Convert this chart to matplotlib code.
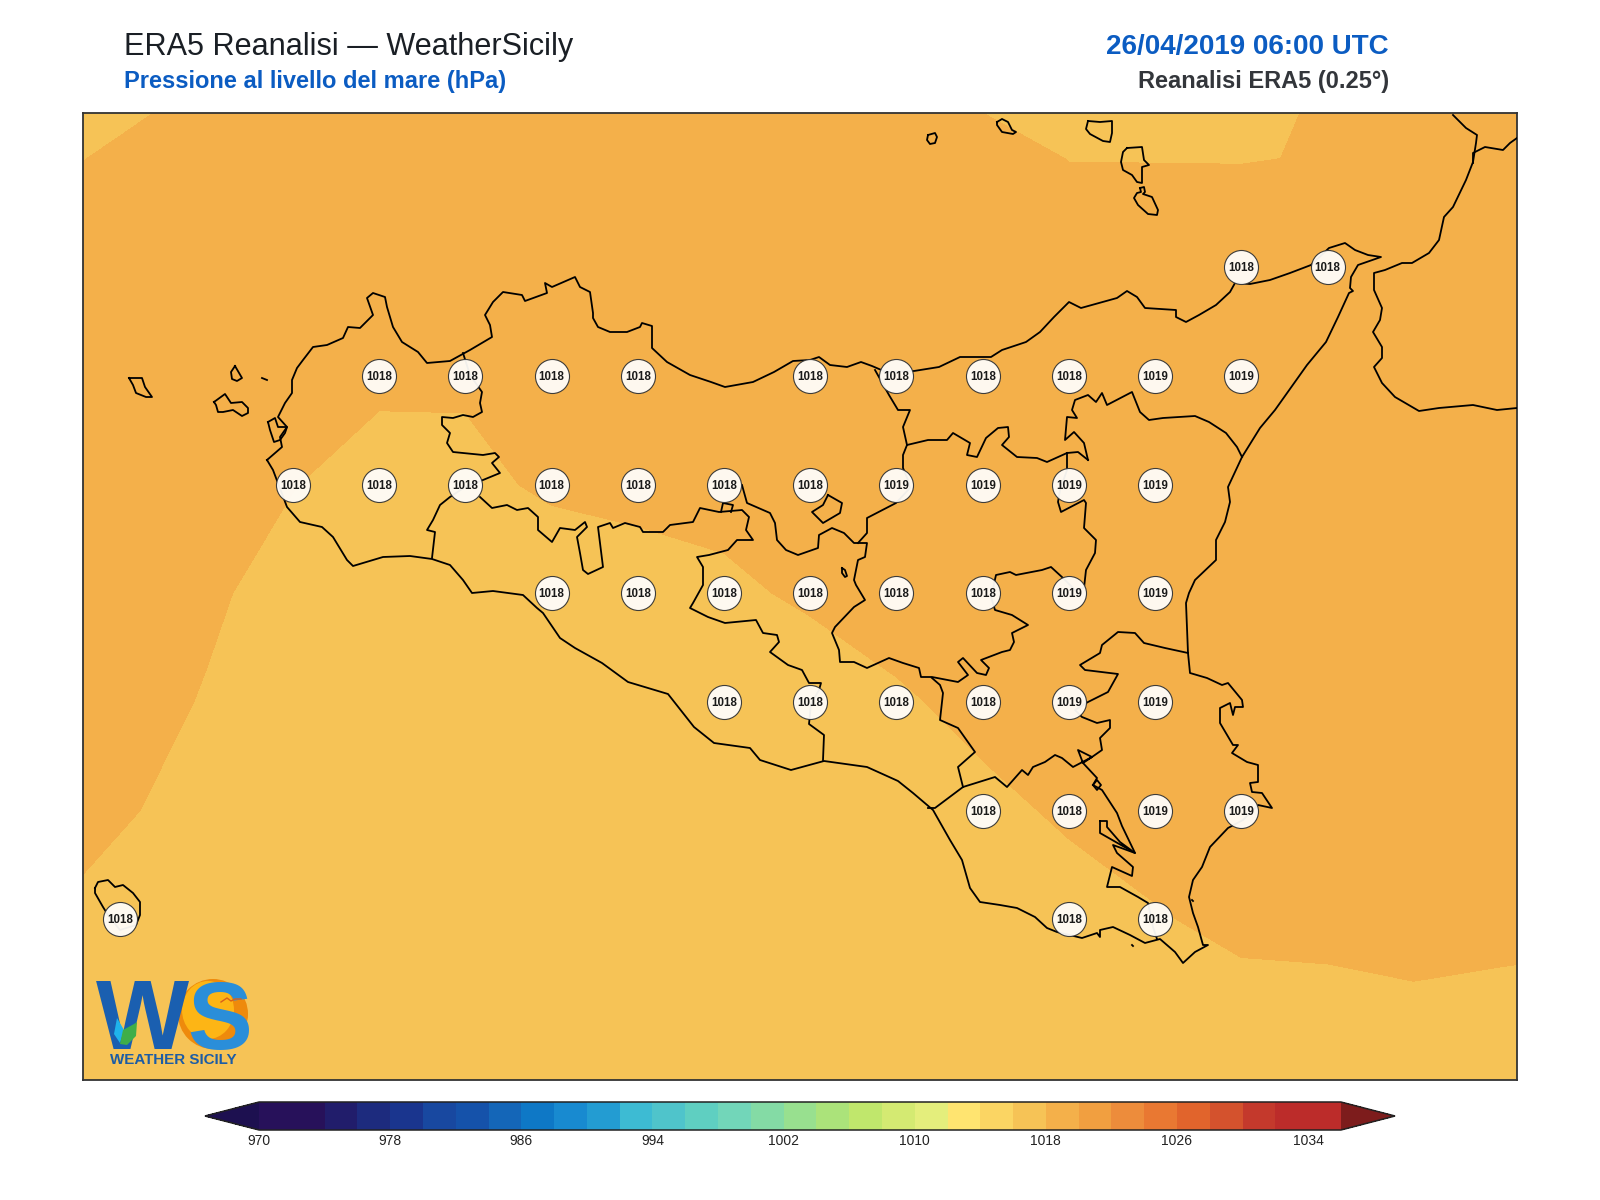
import numpy as np
import matplotlib
matplotlib.use("Agg")
import matplotlib.pyplot as plt
from matplotlib.colors import ListedColormap, BoundaryNorm
from matplotlib.patches import Circle, Polygon, Ellipse

plt.rcParams['font.family'] = ['Liberation Sans', 'DejaVu Sans']

# ---------- pressure field (ERA5 0.25 deg grid, hPa) ----------
LON = [11.75, 12.0, 12.25, 12.5, 12.75, 13.0, 13.25, 13.5, 13.75, 14.0, 14.25, 14.5, 14.75, 15.0, 15.25, 15.5, 15.75, 16.0, 16.25]
LAT = [38.75, 38.5, 38.25, 38.0, 37.75, 37.5, 37.25, 37.0, 36.75, 36.5, 36.25]
D_3875 = [-.6, -.752, -.095, .121, .3, .3, .3, .3, .3, .165, -.085, -.525, -.5, -.5, -.5, .005, .3, .3, .3]
D_3850 = [-.313, .2, .3, .4, .4, .4, .4, .4, .45, .5, .5, .38, -.02, -.02, -.02, .024, .5, .6, .6]
D_3825 = [.533, .5, .5, .5, .5, .5, .5, .5, .5, .5, .5, .5, .586, .456, .365, .5, .6, .7, .7]
D_3800 = [.7, .6, .5, .4, .141, .118, .3, .4, .45, .45, .45, .45, .45, .6, .6, .7, .8, .8, .8]
D_3775 = [.6, .4, .2, .0226, -.3, -.23, .141, .313, .434, .45, .55, .6, .65, .7, .75, .8, .85, .9, .9]
D_3750 = [.5, .35, .129, -.3, -.6, -.6, -.6, -.5, -.255, .2, 1.03, .45, .6, .7, .8, .8, .85, .9, .9]
D_3725 = [.5, .329, -.058, -.4, -.6, -.6, -.6, -.6, -.6, -.752, -.308, .626, .7, .75, .8, .85, .9, .9, .9]
D_3700 = [.4, .145, -.5, -.6, -.6, -.6, -.6, -.6, -.6, -.6, -.6, -.533, .3, .51, .6, .7, .8, .8, .8]
D_3675 = [.064, -.58, -.7, -.7, -.7, -.7, -.7, -.7, -.7, -.7, -.7, -.7, -.854, -.09, .27, .347, .66, .39, .235]
D_3650 = [-.647, -.5, -.5, -.5, -.5, -.5, -.5, -.5, -.5, -.5, -.5, -.5, -.5, -.5, -.5, -.5, -.5, -.5, -.5]
D_3625 = [-.8] * 19
BASE_HPA = 1018.0

LEVELS = list(range(970, 1038, 2))
CBAR_TICKS = list(range(970, 1035, 8))
COLORS = ['#27115A', '#27115A', '#211D6B', '#1D2B7E', '#1A358E', '#1848A0', '#1552AA', '#1466B8', '#0E78C6',
          '#188AD0', '#239CD2', '#3DBBD3', '#4FC4CB', '#5FCFC1', '#72D6B9', '#84DBA5', '#98E08F', '#ABE37A',
          '#C0E76C', '#D4EA72', '#E4EE7C', '#FFE470', '#FBD563', '#F6C356', '#F4B04A', '#F19F40', '#ED8C3B',
          '#E97832', '#E1642C', '#D4522D', '#C4392C', '#BC2C2A', '#BC2C2A']
UNDER, OVER = '#1D1050', '#7D1C1C'

# ---------- station values ----------
ROW_3825 = (38.25, [15.25, 15.5], [1018, 1018])
ROW_3800 = (38.0, [12.75, 13.0, 13.25, 13.5, 14.0, 14.25, 14.5, 14.75, 15.0, 15.25],
            [1018, 1018, 1018, 1018, 1018, 1018, 1018, 1018, 1019, 1019])
ROW_3775 = (37.75, [12.5, 12.75, 13.0, 13.25, 13.5, 13.75, 14.0, 14.25, 14.5, 14.75, 15.0],
            [1018, 1018, 1018, 1018, 1018, 1018, 1018, 1019, 1019, 1019, 1019])
ROW_3750 = (37.5, [13.25, 13.5, 13.75, 14.0, 14.25, 14.5, 14.75, 15.0],
            [1018, 1018, 1018, 1018, 1018, 1018, 1019, 1019])
ROW_3725 = (37.25, [13.75, 14.0, 14.25, 14.5, 14.75, 15.0], [1018, 1018, 1018, 1018, 1019, 1019])
ROW_3700 = (37.0, [14.5, 14.75, 15.0, 15.25], [1018, 1018, 1019, 1019])
ROW_3675 = (36.75, [12.0, 14.75, 15.0], [1018, 1018, 1018])

SICILY = [(267,460),(282,447),(280,437),(287,427),(278,417),(285,403),(292,393),(292,380),(297,368),(303,360),(313,347),
 (327,345),(343,338),(348,327),(360,328),(373,315),(367,298),(373,293),(385,297),(387,307),(393,327),(402,342),(418,352),
 (427,363),(450,361),(470,350),(492,337),(490,325),(485,315),(493,302),(503,292),(522,295),(525,301),(547,293),(545,283),
 (552,287),(575,277),(580,287),(590,292),(593,313),(593,318),(598,327),(610,332),(627,332),(640,327),(642,323),(652,326),
 (652,348),(667,362),(690,375),(711,382),(725,387),(753,382),(774,372),(793,361),(810,360),(819,357),(830,365),(847,367),
 (861,362),(872,366),(886,372),(914,371),(939,367),(960,357),(991,357),(1002,350),(1026,342),(1040,332),(1054,317),(1069,302),
 (1081,308),(1106,301),(1117,298),(1127,291),(1137,297),(1145,308),(1176,310),(1176,317),(1186,322),(1199,315),(1216,305),
 (1230,292),(1235,283),(1250,284),(1270,280),(1290,273),(1311,265),(1329,248),(1345,243),(1355,250),(1368,255),(1381,257),
 (1358,265),(1351,277),(1350,288),(1353,291),(1349,293),(1338,317),(1326,342),(1307,365),(1275,410),(1260,428),(1242,457),
 (1228,487),(1230,502),(1225,522),(1216,540),(1216,560),(1195,580),(1189,593),(1186,603),(1188,653),(1190,673),(1207,678),
 (1222,685),(1228,683),(1242,700),(1243,707),(1235,707),(1233,715),(1230,703),(1220,708),(1220,723),(1233,745),(1238,745),
 (1232,753),(1247,762),(1258,765),(1258,782),(1250,783),(1252,792),(1262,793),(1272,808),(1258,805),(1243,820),(1228,828),
 (1210,847),(1202,867),(1193,880),(1189,897),(1193,913),(1198,927),(1203,945),(1208,945),(1195,952),(1183,963),(1175,952),
 (1160,939),(1145,943),(1130,935),(1113,927),(1100,930),(1100,937),(1097,933),(1082,938),(1057,932),(1047,928),(1035,917),
 (1017,908),(1000,905),(980,902),(970,888),(962,860),(950,840),(933,810),(913,793),(898,781),(867,767),(824,761),(791,770),
 (760,760),(750,748),(714,743),(694,727),(668,694),(628,682),(602,663),(575,648),(560,638),(543,613),(537,608),(523,595),
 (493,591),(472,593),(463,580),(450,565),(432,559),(410,556),(383,557),(353,566),(347,560),(333,537),(322,527),(300,522),
 (287,507),(273,470),(267,460)]
STAGNONE = [(268,422),(275,418),(278,427),(287,427),(285,433),(280,440),(274,442),(270,430),(268,422)]
TP_PA = [(463,353),(470,375),(482,392),(480,403),(482,412),(473,417),(463,415),(453,418),(442,417),(442,425),(450,433),
 (447,443),(453,452),(483,455),(495,453),(499,457),(492,463),(500,473),(483,480),(465,487),(450,497),(440,505),(433,520),
 (427,530),(435,532),(432,558)]
PA_AG = [(480,497),(492,508),(507,505),(517,510),(528,508),(538,517),(538,530),(552,542),(560,528),(575,530),(585,522),
 (587,527),(577,537),(580,553),(583,570),(588,574),(603,567),(600,543),(598,527),(610,523),(613,528),(625,523),(640,527),
 (643,532),(663,532),(670,525),(693,522),(700,508),(719,512),(742,510),(749,517),(746,530),(753,540),(737,540),(728,550),
 (709,555),(697,557),(703,567),(703,585),(693,603),(690,608),(708,617),(725,623),(756,620),(763,633),(777,635),(779,642),
 (770,652),(788,665),(802,670),(809,683),(821,683),(819,690),(811,704),(809,724),(824,735),(823,760)]
CL_PA = [(742,485),(747,503),(770,513),(775,523),(777,540),(786,550),(798,555),(818,548),(819,535),(832,528),(844,533),
 (854,543),(867,543),(865,557),(858,560),(854,580),(856,585),(865,600),(854,607),(835,627),(832,633),(839,650),(840,662),
 (854,662),(867,668),(889,658),(903,663),(919,668),(921,677),(932,677),(958,682),(968,675),(958,662),(963,658),(977,673),
 (986,675),(989,668),(981,660),(1002,652),(1010,650),(1014,642),(1012,633),(1028,625),(1012,615),(995,610),(991,597),
 (996,575),(1010,572),(1016,575),(1042,570),(1051,567),(1063,578),(1075,590),(1084,588),(1086,570),(1095,553),(1096,540),
 (1084,528),(1086,503),(1084,500),(1061,512),(1058,502),(1060,490),(1067,470),(1067,453)]
ME_NORTH = [(1088,460),(1084,443),(1074,432),(1065,440),(1067,417),(1077,418),(1072,410),(1075,400),(1088,395),(1096,402),
 (1102,393),(1107,405),(1132,392),(1140,412),(1149,420),(1163,418),(1195,416),(1209,422),(1226,433),(1237,447),(1242,457)]
ME_LINK = [(1067,453),(1078,452),(1088,460)]
EN_ME = [(1067,453),(1047,462),(1037,458),(1017,457),(1002,445),(1009,437),(1008,427),(998,428),(986,438),(977,457),(967,455),
 (970,443),(953,433),(947,440),(928,440),(907,445),(903,455),(903,468),(908,480),(910,488),(896,503),(867,518),(867,533),(858,543)]
PA_ME = [(875,370),(889,395),(898,410),(910,410),(903,427),(907,445)]
ENCLAVE = [(828,495),(842,503),(840,513),(823,523),(812,512),(823,505),(828,495)]
ENCLAVE2 = [(721,512),(723,503),(733,505),(731,512)]
CT_SOUTH = [(1188,653),(1165,648),(1144,643),(1135,633),(1118,632),(1102,645),(1100,653),(1080,665),(1085,670),(1118,674),
 (1108,692),(1088,702),(1075,710),(1082,717),(1097,723),(1110,720),(1110,728),(1100,738),(1102,750),(1092,757),(1078,750),
 (1083,763),(1092,757),(1073,767),(1062,758),(1055,755),(1045,762),(1033,767),(1028,775),(1022,770),(1007,787),(995,777),
 (963,787),(935,808),(928,808)]
RG_CL = [(963,787),(958,767),(975,752),(958,728),(940,720),(943,693),(940,685),(932,678)]
RG_SR = [(1083,763),(1097,778),(1093,785),(1102,790),(1117,813),(1122,826),(1135,853),(1113,845),(1117,853),(1133,867),
 (1132,876),(1112,867),(1107,887),(1120,887),(1138,897),(1148,903),(1153,927),(1157,939)]
LAGOON = [(1100,821),(1107,821),(1107,827),(1120,842),(1135,853),(1100,833),(1100,821)]
LOOP_SE = [(1093,785),(1097,780),(1101,785),(1097,790),(1093,785)]
LAKE = [(842,568),(845,570),(847,576),(845,577),(842,573),(842,568)]
CALABRIA_W = [(1453,115),(1466,128),(1477,135),(1476,143),(1473,162),(1466,180),(1453,207),(1444,217),(1439,240),(1429,253),
 (1412,263),(1402,263),(1385,270),(1374,273),(1374,290),(1382,308),(1380,320),(1373,332),(1382,347),(1382,358),(1374,367),
 (1382,383),(1395,397),(1419,411),(1439,408),(1473,405),(1497,410),(1517,408)]
CALABRIA_N = [(1473,163),(1473,153),(1485,147),(1503,150),(1510,143),(1517,138)]
ALICUDI = [(928,135),(935,133),(937,137),(935,143),(930,144),(927,140),(928,135)]
FILICUDI = [(997,122),(1002,119),(1008,122),(1012,130),(1016,132),(1013,134),(1002,132),(997,125),(997,122)]
SALINA = [(1088,121),(1100,122),(1112,121),(1112,133),(1110,142),(1103,141),(1090,134),(1086,129),(1088,121)]
LIPARI = [(1127,148),(1142,147),(1144,160),(1149,165),(1142,167),(1142,183),(1137,182),(1132,175),(1123,170),(1121,162),(1123,152),(1127,148)]
VULCANO = [(1140,188),(1144,187),(1145,192),(1143,194),(1152,197),(1158,210),(1157,215),(1148,214),(1138,205),(1134,198),(1137,193),(1141,192),(1140,188)]
MARETTIMO = [(129,378),(142,378),(145,387),(152,397),(146,397),(136,393),(133,385),(129,378)]
LEVANZO = [(235,366),(242,378),(237,381),(232,379),(231,372),(235,366)]
FAVIGNANA = [(214,402),(225,394),(231,403),(242,402),(248,408),(248,413),(242,416),(233,410),(223,412),(218,412),(216,405),(214,402)]
FORMICA = [(262,378),(267,380)]
ISLET_A = [(1132,945),(1133,946)]
ISLET_B = [(1192,900),(1193,901)]
PANTELLERIA = [(95,888),(98,882),(108,880),(115,887),(123,885),(133,893),(140,902),(140,915),(136,925),(120,930),(108,915),(103,907),(95,893),(95,888)]
OUTLINES = [SICILY, STAGNONE, TP_PA, PA_AG, CL_PA, ME_NORTH, ME_LINK, EN_ME, PA_ME, ENCLAVE, ENCLAVE2, CT_SOUTH, RG_CL, RG_SR,
            LAGOON, LOOP_SE, LAKE, CALABRIA_W, CALABRIA_N, ALICUDI, FILICUDI, SALINA, LIPARI, VULCANO, MARETTIMO, LEVANZO,
            FAVIGNANA, FORMICA, ISLET_A, ISLET_B, PANTELLERIA]

# ---------- text ----------
TITLE = "ERA5 Reanalisi \u2014 WeatherSicily"
SUBTITLE = "Pressione al livello del mare (hPa)"
DATE = "26/04/2019 06:00 UTC"
SOURCE = "Reanalisi ERA5 (0.25\u00b0)"
LOGO_WORDS = "WEATHER SICILY"

W, H = 1600, 1200
LEFT, RIGHT, TOP, BOTTOM = 83, 1517, 113, 1080   # frame, px


def to_lon(x):
    return 15.5 + (np.asarray(x, float) - 1327.6) / 344.9


def to_lat(y):
    return 38.25 - (np.asarray(y, float) - 267.3) / 434.7


fig = plt.figure(figsize=(16, 12), dpi=100, facecolor='white')
ax = fig.add_axes([LEFT / W, 1 - BOTTOM / H, (RIGHT - LEFT) / W, (BOTTOM - TOP) / H])

grid = BASE_HPA + np.array([D_3875, D_3850, D_3825, D_3800, D_3775, D_3750, D_3725, D_3700, D_3675, D_3650, D_3625])
cmap = ListedColormap(COLORS).with_extremes(under=UNDER, over=OVER)
norm = BoundaryNorm(LEVELS, ncolors=len(COLORS))
cf = ax.contourf(LON, LAT, grid, levels=LEVELS, cmap=cmap, norm=norm, extend='both')

for line in OUTLINES:
    xs, ys = zip(*line)
    ax.plot(to_lon(xs), to_lat(ys), color='black', lw=1.3, solid_joinstyle='round', zorder=3)

for lat, lons, vals in (ROW_3825, ROW_3800, ROW_3775, ROW_3750, ROW_3725, ROW_3700, ROW_3675):
    ax.scatter(lons, [lat] * len(lons), s=600, facecolor='#FFFDF9', edgecolor='#333333', linewidth=0.8,
               alpha=0.95, zorder=4)
    for lon, val in zip(lons, vals):
        ax.text(lon, lat - 0.002, str(val), ha='center', va='center', fontsize=8.3, fontweight='bold',
                color='#1a1a1a', zorder=5)

ax.set_xlim(to_lon(LEFT), to_lon(RIGHT))
ax.set_ylim(to_lat(BOTTOM), to_lat(TOP))
ax.set_xticks([])
ax.set_yticks([])
for s in ax.spines.values():
    s.set_linewidth(1.3)
    s.set_edgecolor('#333333')

# colour bar: the axes spans tip to tip of the extend triangles
cax = fig.add_axes([205 / W, 1 - 1130 / H, (1395 - 205) / W, 28 / H])
cb = fig.colorbar(cf, cax=cax, orientation='horizontal', extend='both', extendfrac=0.05, ticks=CBAR_TICKS,
                  spacing='uniform', drawedges=False)
cb.ax.minorticks_off()
cb.ax.tick_params(length=0, labelsize=10, pad=3, colors='#222222')
cb.set_ticklabels([str(t) for t in CBAR_TICKS])
cb.outline.set_linewidth(1.1)
cb.outline.set_edgecolor('#222222')

# headings
fig.text(124 / W, 1 - 55 / H, TITLE, fontsize=22.1, color='#1a1f25', ha='left', va='baseline')
fig.text(124 / W, 1 - 88 / H, SUBTITLE, fontsize=17, fontweight='bold', color='#0B5CC2', ha='left', va='baseline')
fig.text(1389 / W, 1 - 54 / H, DATE, fontsize=20, fontweight='bold', color='#0B5CC2', ha='right', va='baseline')
fig.text(1389 / W, 1 - 88 / H, SOURCE, fontsize=17, fontweight='bold', color='#33363b', ha='right', va='baseline')

# logo overlay in pixel units
ov = fig.add_axes([0, 0, 1, 1], facecolor='none')
ov.set_xlim(0, W)
ov.set_ylim(H, 0)
ov.axis('off')
ov.add_patch(Circle((213, 1014), 35, facecolor='#EE8A0C', edgecolor='none', zorder=6))
ov.add_patch(Ellipse((208, 1010), 52, 58, facecolor='#FDB515', edgecolor='none', zorder=7))
ov.text(96, 1049, "W", fontsize=71, fontweight='bold', color='#1A5FB0', ha='left', va='baseline', zorder=8)
ov.text(187, 1049, "S", fontsize=70, fontweight='bold', color='#2A8ED9', ha='left', va='baseline', zorder=9)
ov.add_patch(Polygon([(120, 1044), (123, 1030), (134, 1024), (137, 1022), (136, 1036), (127, 1045)], closed=True,
                     facecolor='#3FAE49', edgecolor='none', zorder=10))
ov.add_patch(Polygon([(117, 1018), (124, 1030), (120, 1043), (114, 1034)], closed=True,
                     facecolor='#1FB4EC', edgecolor='none', zorder=9))
ov.plot([221, 227, 231, 235, 241], [1002, 998, 1001, 999, 999], color='#D9601A', lw=1, zorder=10)
ov.text(173, 1060, LOGO_WORDS, fontsize=10.9, fontweight='bold', color='#1C5CA5', ha='center', va='center', zorder=10)

fig.savefig('out.png', dpi=100, facecolor='white')
